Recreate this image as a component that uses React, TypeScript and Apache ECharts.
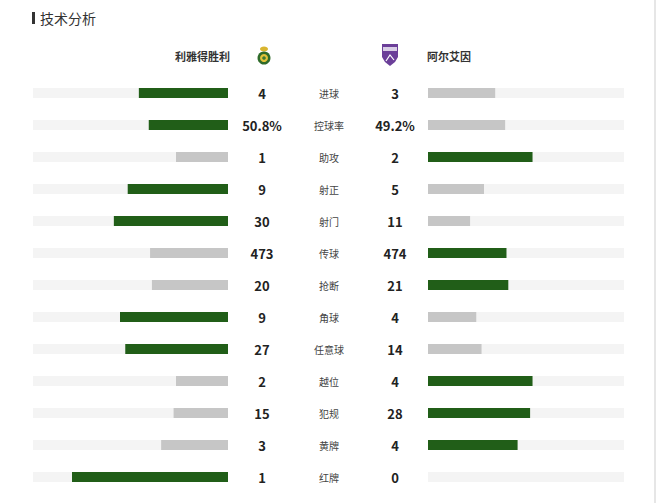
import React, { useEffect, useRef } from "react";
import * as echarts from "echarts";

const categories = ["进球", "控球率", "助攻", "射正", "射门", "传球", "抢断", "角球", "任意球", "越位", "犯规", "黄牌", "红牌"];
const homeValues = [4, 50.8, 1, 9, 30, 473, 20, 9, 27, 2, 15, 3, 1];
const awayValues = [3, 49.2, 2, 5, 11, 474, 21, 4, 14, 4, 28, 4, 0];
const percentCategories = ["控球率"];
const homeTeam = "利雅得胜利";
const awayTeam = "阿尔艾因";
const title = "技术分析";

const GREEN = "#215e18";
const GRAY = "#c6c6c6";
const TRACK = "#f4f4f4";
const FONT = "'Noto Sans CJK SC', 'Noto Sans', sans-serif";

const fmt = (i: number, v: number) =>
  percentCategories.includes(categories[i]) ? `${v}%` : `${v}`;

export default function App() {
  const ref = useRef<HTMLDivElement>(null);
  useEffect(() => {
    if (!ref.current) return;
    const chart = echarts.init(ref.current, null, { renderer: "svg" });
    const share = (a: number, b: number) => (a + b === 0 ? 0 : a / (a + b));
    const homeData = homeValues.map((h, i) => ({
      value: share(h, awayValues[i]),
      itemStyle: { color: h > awayValues[i] ? GREEN : GRAY },
    }));
    const awayData = awayValues.map((a, i) => ({
      value: share(a, homeValues[i]),
      itemStyle: { color: a > homeValues[i] ? GREEN : GRAY },
    }));
    const top = 77;
    const height = 416;
    const valueLabel = {
      fontSize: 13,
      fontWeight: "bold" as const,
      color: "#222",
      fontFamily: FONT,
      align: "center" as const,
    };
    chart.setOption({
      animation: false,
      backgroundColor: "#ffffff",
      grid: [
        { left: 33, width: 195, top, height },
        { left: 428, width: 196, top, height },
        { left: 329, width: 10, top, height },
      ],
      xAxis: [
        { gridIndex: 0, type: "value", min: 0, max: 1.25, inverse: true, show: false },
        { gridIndex: 1, type: "value", min: 0, max: 1.25, show: false },
        { gridIndex: 2, type: "value", min: 0, max: 1, show: false },
      ],
      yAxis: [
        {
          gridIndex: 0, type: "category", data: categories, inverse: true, position: "right",
          axisLine: { show: false }, axisTick: { show: false },
          axisLabel: { ...valueLabel, margin: 34, formatter: (_v: string, i: number) => fmt(i, homeValues[i]) },
        },
        {
          gridIndex: 1, type: "category", data: categories, inverse: true, position: "left",
          axisLine: { show: false }, axisTick: { show: false },
          axisLabel: { ...valueLabel, margin: 33, formatter: (_v: string, i: number) => fmt(i, awayValues[i]) },
        },
        {
          gridIndex: 2, type: "category", data: categories, inverse: true, position: "left",
          axisLine: { show: false }, axisTick: { show: false },
          axisLabel: { fontSize: 10, color: "#444", fontFamily: FONT, align: "center", margin: 0 },
        },
      ],
      series: [
        {
          type: "bar", xAxisIndex: 0, yAxisIndex: 0, data: homeData, barWidth: 10,
          showBackground: true, backgroundStyle: { color: TRACK },
        },
        {
          type: "bar", xAxisIndex: 1, yAxisIndex: 1, data: awayData, barWidth: 10,
          showBackground: true, backgroundStyle: { color: TRACK },
        },
      ],
      graphic: [
        { type: "rect", shape: { x: 32, y: 12, width: 3, height: 12 }, style: { fill: "#333" } },
        { type: "text", x: 40, y: 18, style: { text: title, fontSize: 14, fill: "#333", fontFamily: FONT, verticalAlign: "middle" } },
        { type: "text", x: 230, y: 56, style: { text: homeTeam, fontSize: 11, fontWeight: "bold", fill: "#333", fontFamily: FONT, align: "right", verticalAlign: "middle" } },
        { type: "text", x: 427, y: 56, style: { text: awayTeam, fontSize: 11, fontWeight: "bold", fill: "#333", fontFamily: FONT, align: "left", verticalAlign: "middle" } },
        // Al Nassr logo
        { type: "ellipse", shape: { cx: 264, cy: 49, rx: 4, ry: 2.5 }, style: { fill: "#d9b530" } },
        { type: "circle", shape: { cx: 264, cy: 58, r: 6.5 }, style: { fill: "#2f6b2a" } },
        { type: "circle", shape: { cx: 264, cy: 58, r: 4 }, style: { fill: "#e2c23a" } },
        { type: "circle", shape: { cx: 264, cy: 58, r: 1.8 }, style: { fill: "#3d7a33" } },
        // Al Ain logo
        { type: "polygon", shape: { points: [[382, 44], [398, 44], [398, 57], [395, 62], [390, 66], [385, 62], [382, 57]] }, style: { fill: "#6b3f99" } },
        { type: "rect", shape: { x: 383, y: 47, width: 14, height: 4 }, style: { fill: "#d9cfe6" } },
        { type: "polyline", shape: { points: [[386, 61], [390, 55], [394, 60]] }, style: { stroke: "#ffffff", lineWidth: 1.2, fill: "none" } },
        // right edge line
        { type: "rect", shape: { x: 654, y: 0, width: 2, height: 503 }, style: { fill: "#e6e6e6" } },
      ],
    });
    return () => chart.dispose();
  }, []);
  return (
    <div
      ref={ref}
      style={{ position: "fixed", left: 0, top: 0, width: 660, height: 503 }}
    />
  );
}
